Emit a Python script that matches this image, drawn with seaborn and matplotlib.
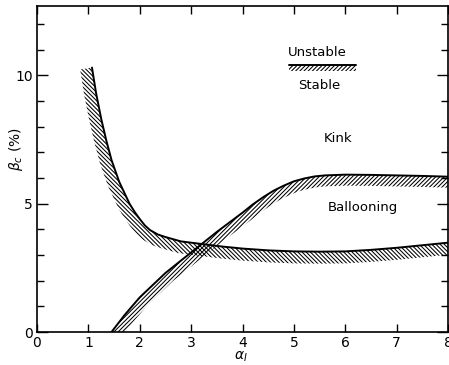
import numpy as np
import pandas as pd
import matplotlib
matplotlib.use("Agg")
import matplotlib.pyplot as plt
from matplotlib.ticker import MultipleLocator
import seaborn as sns

# Data
ball_x = [1.07, 1.15, 1.25, 1.35, 1.45, 1.6, 1.8, 1.9, 2.0, 2.1, 2.2, 2.35, 2.5, 2.8, 3.2, 3.6, 4.0, 4.5, 5.0, 5.5, 6.0, 6.5, 7.0, 7.5, 8.0]
ball_y = [10.3, 9.3, 8.3, 7.45, 6.7, 5.85, 5.0, 4.68, 4.4, 4.15, 3.97, 3.8, 3.7, 3.53, 3.43, 3.33, 3.25, 3.18, 3.14, 3.13, 3.14, 3.2, 3.28, 3.38, 3.48]
kink_x = [1.45, 1.7, 2.0, 2.5, 3.0, 3.5, 4.0, 4.2, 4.4, 4.6, 4.8, 5.0, 5.2, 5.4, 5.6, 6.0, 6.5, 7.0, 7.5, 8.0]
kink_y = [0.0, 0.65, 1.35, 2.3, 3.1, 3.9, 4.65, 4.97, 5.25, 5.5, 5.7, 5.87, 5.98, 6.06, 6.1, 6.13, 6.12, 6.1, 6.08, 6.05]
x_ticks = [0, 1, 2, 3, 4, 5, 6, 7, 8]
y_ticks = [0, 5, 10]

sns.set_style("ticks")
plt.rcParams["font.family"] = ["DejaVu Sans"]
plt.rcParams["hatch.linewidth"] = 0.75
plt.rcParams["text.color"] = "black"
plt.rcParams["axes.labelcolor"] = "black"
plt.rcParams["xtick.color"] = "black"
plt.rcParams["ytick.color"] = "black"
plt.rcParams["axes.edgecolor"] = "black"

fig = plt.figure(figsize=(4.49, 3.65), dpi=100)
ax = fig.add_axes([0.0824, 0.0904, 0.9156, 0.8932])
ax.set_xlim(0, 8)
ax.set_ylim(0, 12.7)

df_b = pd.DataFrame({"x": ball_x, "y": ball_y})
df_k = pd.DataFrame({"x": kink_x, "y": kink_y})
sns.lineplot(data=df_b, x="x", y="y", ax=ax, color="black", lw=1.4, sort=False, estimator=None)
sns.lineplot(data=df_k, x="x", y="y", ax=ax, color="black", lw=1.4, sort=False, estimator=None)


def band(xs, ys, width_px, hatch):
    pts = ax.transData.transform(np.column_stack([xs, ys]))
    d = np.gradient(pts, axis=0)
    n = np.column_stack([d[:, 1], -d[:, 0]])
    n /= np.linalg.norm(n, axis=1)[:, None]
    off = pts + n * width_px
    poly = np.vstack([pts, off[::-1]])
    poly_d = ax.transData.inverted().transform(poly)
    ax.fill(poly_d[:, 0], poly_d[:, 1], facecolor="none", edgecolor="black",
            linewidth=0, hatch=hatch)


band(ball_x, ball_y, 12, "\\" * 8)
band(kink_x, kink_y, 11, "/" * 8)

# legend-like key
ax.fill_between([4.9, 6.2], [10.15, 10.15], [10.42, 10.42], facecolor="none",
                edgecolor="black", linewidth=0, hatch="/" * 8)
ax.plot([4.9, 6.2], [10.42, 10.42], color="black", lw=1.4)
ax.text(5.45, 10.9, "Unstable", ha="center", va="center", fontsize=9.5)
ax.text(5.5, 9.6, "Stable", ha="center", va="center", fontsize=9.5)
ax.text(5.85, 7.55, "Kink", ha="center", va="center", fontsize=9.5)
ax.text(6.35, 4.85, "Ballooning", ha="center", va="center", fontsize=9.5)

ax.set_xticks(x_ticks)
ax.set_yticks(y_ticks)
ax.yaxis.set_minor_locator(MultipleLocator(1))
ax.tick_params(which="both", direction="in", top=True, right=True, width=1.0,
               labelsize=10, pad=3)
ax.tick_params(axis="x", which="major", length=6)
ax.tick_params(axis="y", which="major", length=8)
ax.tick_params(axis="y", which="minor", length=5)
for s in ax.spines.values():
    s.set_linewidth(1.2)

ax.set_xlabel(r"$\alpha_I$", fontsize=10)
ax.xaxis.set_label_coords(0.495, -0.055)
ax.set_ylabel(r"$\beta_c$ (%)", fontsize=10)
ax.yaxis.set_label_coords(-0.03, 0.56)

fig.savefig("out.png", dpi=100)
